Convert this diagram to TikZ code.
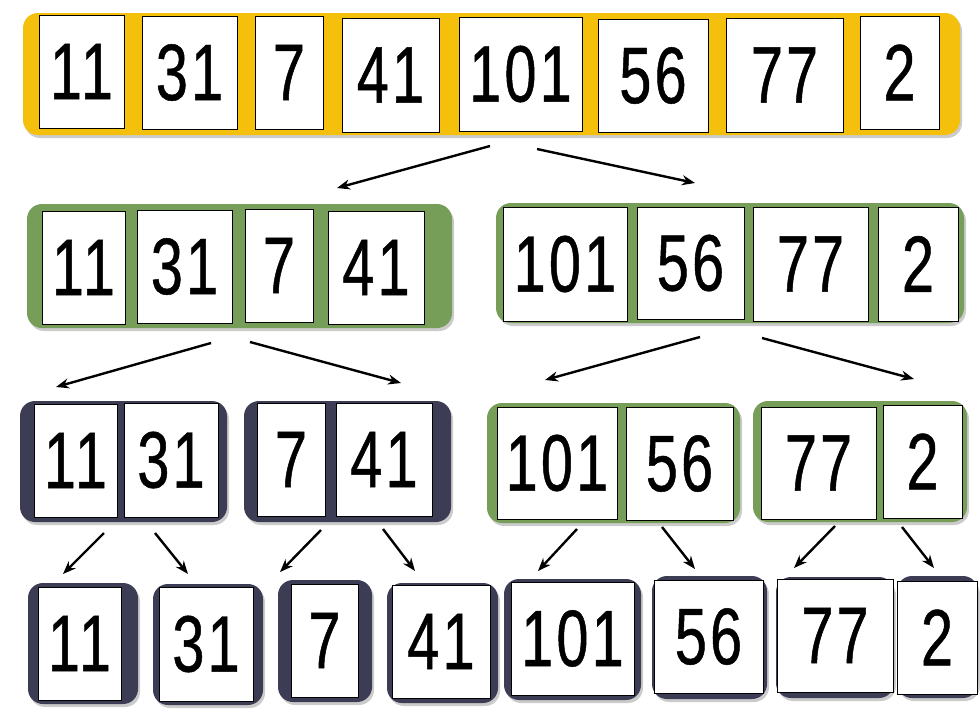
\documentclass[tikz,border=0pt]{standalone}
\usepackage{fontspec}
\usepackage{tikz}
\usetikzlibrary{arrows.meta, shadows}
\newfontfamily\numfont[FakeStretch=0.72, FakeBold=0.6, LetterSpace=4]{Liberation Sans}
\definecolor{barYellow}{RGB}{245,192,12}
\definecolor{barGreen}{RGB}{118,158,88}
\definecolor{barNavy}{RGB}{60,60,84}

% a box from its two corners: name, x1, y1, x2, y2, style, text
\newcommand{\cell}[7]{%
  \node[#6, minimum width={(#4-#2)*1pt}, minimum height={(#5-#3)*1pt}]
    (#1) at ({(#2+#4)/2},{(#3+#5)/2}) {#7};}

\tikzset{
  numbox/.style={draw=black, fill=white, line width=0.8pt, inner sep=0pt,
    font=\numfont\fontsize{80}{80}\selectfont},
  bar/.style={rounded corners=15pt, inner sep=0pt,
    drop shadow={shadow xshift=2pt, shadow yshift=-3pt, fill=black!40, opacity=0.5}},
  yellowbar/.style={bar, fill=barYellow},
  greenbar/.style={bar, fill=barGreen},
  navybar/.style={bar, fill=barNavy},
  split/.style={-{Stealth[length=13pt, width=10pt]}, line width=2.4pt, black}
}

\begin{document}
\begin{tikzpicture}[x=1pt, y=-1pt]
  \useasboundingbox (0,0) rectangle (980,721);
  \fill[white] (0,0) rectangle (980,721);

  % whole list
  \cell{top}{23}{13}{960}{135}{yellowbar}{}
  \cell{t11}{39}{15}{124}{128}{numbox}{11}
  \cell{t31}{142}{16}{237}{129}{numbox}{31}
  \cell{t7}{255}{16}{323}{129}{numbox}{7}
  \cell{t41}{342}{18}{439}{132}{numbox}{41}
  \cell{t101}{459}{17}{582}{131}{numbox}{101}
  \cell{t56}{598}{19}{708}{132}{numbox}{56}
  \cell{t77}{726}{18}{843}{132}{numbox}{77}
  \cell{t2}{860}{16}{939}{129}{numbox}{2}

  % halves
  \cell{left}{27}{204}{452}{328}{greenbar}{}
  \cell{l11}{42}{211}{125}{324}{numbox}{11}
  \cell{l31}{137}{210}{232}{323}{numbox}{31}
  \cell{l7}{245}{209}{313}{322}{numbox}{7}
  \cell{l41}{328}{211}{424}{324}{numbox}{41}
  \cell{right}{496}{203}{964}{323}{greenbar}{}
  \cell{r101}{503}{207}{627}{321}{numbox}{101}
  \cell{r56}{637}{207}{744}{319}{numbox}{56}
  \cell{r77}{753}{207}{868}{321}{numbox}{77}
  \cell{r2}{878}{207}{958}{321}{numbox}{2}

  % quarters
  \cell{qa}{20}{401}{227}{522}{navybar}{}
  \cell{qa11}{34}{404}{117}{517}{numbox}{11}
  \cell{qa31}{124}{403}{218}{517}{numbox}{31}
  \cell{qb}{244}{401}{451}{522}{navybar}{}
  \cell{qb7}{257}{403}{325}{516}{numbox}{7}
  \cell{qb41}{336}{403}{432}{516}{numbox}{41}
  \cell{qc}{487}{403}{740}{523}{greenbar}{}
  \cell{qc101}{497}{407}{617}{519}{numbox}{101}
  \cell{qc56}{626}{407}{733}{520}{numbox}{56}
  \cell{qd}{753}{401}{967}{522}{greenbar}{}
  \cell{qd77}{761}{407}{876}{519}{numbox}{77}
  \cell{qd2}{883}{405}{962}{518}{numbox}{2}

  % single elements
  \cell{sa}{28}{583}{138}{704}{navybar}{}
  \cell{sa11}{38}{587}{121}{700}{numbox}{11}
  \cell{sb}{153}{584}{263}{705}{navybar}{}
  \cell{sb31}{159}{587}{253}{701}{numbox}{31}
  \cell{sc}{278}{580}{372}{702}{navybar}{}
  \cell{sc7}{291}{584}{358}{697}{numbox}{7}
  \cell{sd}{387}{583}{498}{703}{navybar}{}
  \cell{sd41}{392}{585}{490}{698}{numbox}{41}
  \cell{se}{504}{579}{641}{700}{navybar}{}
  \cell{se101}{511}{582}{634}{695}{numbox}{101}
  \cell{sf}{652}{576}{767}{699}{navybar}{}
  \cell{sf56}{654}{580}{763}{693}{numbox}{56}
  \cell{sg}{776}{577}{894}{698}{navybar}{}
  \cell{sg77}{777}{579}{893}{692}{numbox}{77}
  \cell{sh}{897}{576}{978}{698}{navybar}{}
  \cell{sh2}{897}{581}{977}{694}{numbox}{2}

  % split arrows
  \foreach \n/\sx/\sy/\ex/\ey in {
      1/490/146/337/188, 2/537/149/695/183,
      3/211/343/56/387, 4/250/342/401/383, 5/700/337/545/380, 6/762/338/914/379,
      7/104/533/63/574, 8/155/533/188/574, 9/321/530/280/572, 10/383/529/415/571,
      11/577/529/538/571, 12/662/527/695/569, 13/835/526/794/568, 14/902/527/934/568} {
    \coordinate (from\n) at (\sx,\sy);
    \coordinate (to\n) at (\ex,\ey);
    \draw[split] (from\n) -- (to\n);
  }
\end{tikzpicture}
\end{document}
